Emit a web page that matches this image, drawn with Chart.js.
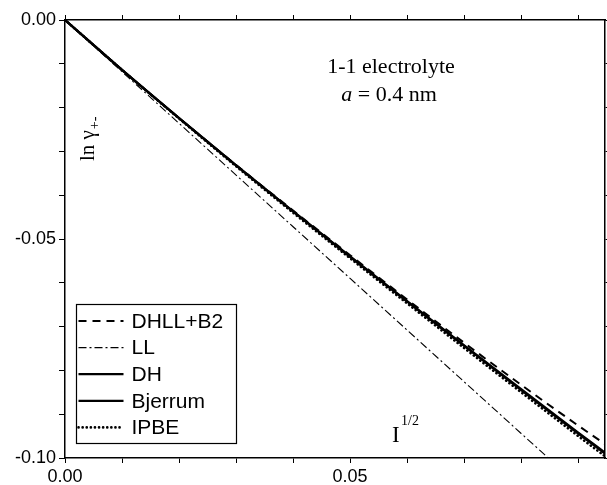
<!DOCTYPE html>
<html>
<head>
<meta charset="utf-8">
<script src="https://cdn.jsdelivr.net/npm/chart.js@4/dist/chart.umd.min.js"></script>
<style>
  html, body { margin: 0; padding: 0; background: #fff; }
  #wrap { width: 607px; height: 485px; }
</style>
</head>
<body>
<div id="wrap"><canvas id="lnChart" width="607" height="485"></canvas></div>
<script>
// sqrt(I) values and ln(gamma)
const sqrtI = [0, 0.01, 0.02, 0.03, 0.04, 0.05, 0.06, 0.07, 0.08, 0.09, 0.0947];
const dhllB2 = [0, -0.0114, -0.0224, -0.0331, -0.0435, -0.0537, -0.0638, -0.0737, -0.0833, -0.0926, -0.0968];
const ll = [0, -0.0118, -0.0236, -0.0354, -0.0472, -0.0590, -0.0708, -0.0826, -0.0944, -0.1062, -0.1118];
const dh = [0, -0.0114, -0.0224, -0.0332, -0.0437, -0.0540, -0.0642, -0.0743, -0.0843, -0.0942, -0.0988];
const bjerrum = [0, -0.0114, -0.0224, -0.0332, -0.0437, -0.0541, -0.0643, -0.0744, -0.0845, -0.0944, -0.0990];
const ipbe = [0, -0.0114, -0.0225, -0.0334, -0.0440, -0.0544, -0.0647, -0.0749, -0.0850, -0.0950, -0.0996];

const xTickLabels = ['0.00', '0.05'];
const yTickLabels = ['0.00', '-0.05', '-0.10'];
const seriesNames = ['DHLL+B2', 'LL', 'DH', 'Bjerrum', 'IPBE'];

const sansFont = '"Liberation Sans", Arial, sans-serif';
const serifFont = '"Liberation Serif", "Times New Roman", serif';

function pts(ys) {
    return sqrtI.map((x, i) => ({ x: x, y: ys[i] }));
}

function tickText(value, labels) {
    const hit = labels.find(l => Math.abs(parseFloat(l) - value) < 1e-9);
    return hit === undefined ? '' : hit;
}

// text inside the plot + legend box
const annotations = {
    id: 'annotations',
    afterDraw(chart) {
        const ctx = chart.ctx;
        const a = chart.chartArea;
        ctx.save();
        ctx.fillStyle = '#000';
        ctx.textBaseline = 'alphabetic';

        // 1-1 electrolyte / a = 0.4 nm
        ctx.font = '22px ' + serifFont;
        ctx.textAlign = 'center';
        ctx.fillText('1-1 electrolyte', a.left + 326, a.top + 53);
        ctx.textAlign = 'left';
        const w1 = ctx.measureText(' = 0.4 nm').width;
        ctx.font = 'italic 22px ' + serifFont;
        const w0 = ctx.measureText('a').width;
        let sx = a.left + 324 - (w0 + w1) / 2;
        ctx.fillText('a', sx, a.top + 81);
        ctx.font = '22px ' + serifFont;
        ctx.fillText(' = 0.4 nm', sx + w0, a.top + 81);

        // I^1/2
        ctx.font = '23px ' + serifFont;
        ctx.fillText('I', a.left + 327, a.top + 422);
        ctx.font = '14px ' + serifFont;
        ctx.fillText('1/2', a.left + 336, a.top + 405);

        // ln gamma+-
        ctx.save();
        ctx.translate(a.left + 29, a.top + 141);
        ctx.rotate(-Math.PI / 2);
        ctx.font = '21px ' + serifFont;
        ctx.fillText('ln \u03b3', 0, 0);
        const lw = ctx.measureText('ln \u03b3').width;
        ctx.font = '14px ' + serifFont;
        ctx.fillText('+-', lw + 1, 5);
        ctx.restore();

        // legend
        const bx = 76.5, by = 304.5, bw = 160, bh = 139;
        ctx.lineWidth = 1.2;
        ctx.strokeStyle = '#000';
        ctx.setLineDash([]);
        ctx.strokeRect(bx, by, bw, bh);
        ctx.font = '21px ' + sansFont;
        ctx.textBaseline = 'middle';
        chart.data.datasets.forEach((ds, i) => {
            const yy = 321 + i * 26.6;
            ctx.save();
            ctx.strokeStyle = ds.borderColor;
            ctx.lineWidth = ds.borderWidth;
            ctx.lineCap = ds.borderCapStyle || 'butt';
            ctx.setLineDash(ds.borderDash || []);
            ctx.beginPath();
            ctx.moveTo(bx + 2, yy);
            ctx.lineTo(bx + 47, yy);
            ctx.stroke();
            ctx.restore();
            ctx.fillText(ds.label, bx + 55, yy + 1);
        });
        ctx.restore();
    }
};

const ctx = document.getElementById('lnChart').getContext('2d');
new Chart(ctx, {
    type: 'line',
    data: {
        datasets: [
            { label: seriesNames[0], data: pts(dhllB2), borderColor: '#000', borderWidth: 2, borderDash: [8, 6] },
            { label: seriesNames[1], data: pts(ll), borderColor: '#000', borderWidth: 1.1, borderDash: [8, 3, 2, 3] },
            { label: seriesNames[2], data: pts(dh), borderColor: '#000', borderWidth: 2.3 },
            { label: seriesNames[3], data: pts(bjerrum), borderColor: '#000', borderWidth: 2.3 },
            { label: seriesNames[4], data: pts(ipbe), borderColor: '#000', borderWidth: 2.6, borderDash: [0.1, 4], borderCapStyle: 'round' }
        ]
    },
    options: {
        responsive: false,
        animation: false,
        parsing: true,
        elements: {
            point: { radius: 0 },
            line: { cubicInterpolationMode: 'monotone', fill: false }
        },
        layout: { padding: { top: 20, right: 2, left: 0, bottom: 0 } },
        plugins: {
            legend: { display: false },
            tooltip: { enabled: false }
        },
        scales: {
            x: {
                type: 'linear',
                position: 'bottom',
                min: 0,
                max: 0.0947,
                afterFit: s => { s.height = 27; },
                border: { display: true, color: '#000', width: 1.5 },
                grid: { drawOnChartArea: false, drawTicks: true, tickLength: 5, color: '#000', lineWidth: 1 },
                ticks: {
                    stepSize: 0.01,
                    includeBounds: false,
                    autoSkip: false,
                    maxRotation: 0,
                    padding: 3,
                    color: '#000',
                    font: { family: sansFont, size: 18 },
                    callback: v => tickText(v, xTickLabels)
                }
            },
            x2: {
                type: 'linear',
                position: 'top',
                min: 0,
                max: 0.0947,
                afterFit: s => { s.height = 0; },
                border: { display: true, color: '#000', width: 1.5 },
                grid: { drawOnChartArea: false, drawTicks: true, tickLength: 5, color: '#000', lineWidth: 1 },
                ticks: { stepSize: 0.01, includeBounds: false, autoSkip: false, display: false }
            },
            y: {
                type: 'linear',
                position: 'left',
                min: -0.1,
                max: 0,
                afterFit: s => { s.width = 65; },
                border: { display: true, color: '#000', width: 1.5 },
                grid: { drawOnChartArea: false, drawTicks: true, tickLength: 6, color: '#000', lineWidth: 1 },
                ticks: {
                    stepSize: 0.01,
                    includeBounds: false,
                    autoSkip: false,
                    padding: 3,
                    color: '#000',
                    font: { family: sansFont, size: 18 },
                    callback: v => tickText(v, yTickLabels)
                }
            },
            y2: {
                type: 'linear',
                position: 'right',
                min: -0.1,
                max: 0,
                afterFit: s => { s.width = 0; },
                border: { display: true, color: '#000', width: 1.5 },
                grid: { drawOnChartArea: false, drawTicks: true, tickLength: 5, color: '#000', lineWidth: 1 },
                ticks: { stepSize: 0.01, includeBounds: false, autoSkip: false, display: false }
            }
        }
    },
    plugins: [annotations]
});
</script>
</body>
</html>
